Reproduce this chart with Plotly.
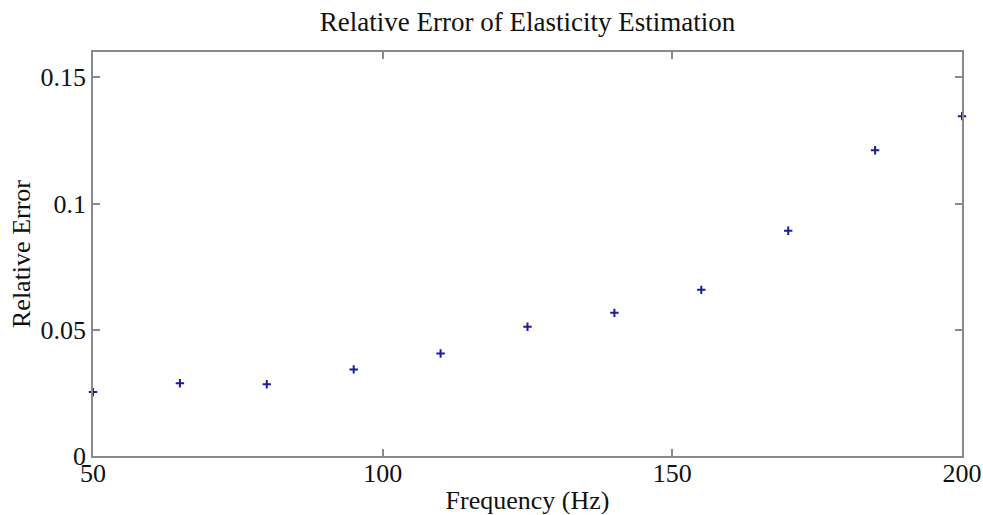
import plotly.graph_objects as go

freq = [50, 65, 80, 95, 110, 125, 140, 155, 170, 185, 200]
rel_err = [0.0253, 0.0288, 0.0284, 0.0343, 0.0406, 0.0512, 0.0567, 0.0658, 0.0892, 0.1211, 0.1346]
xticks = [50, 100, 150, 200]
yticks = [0, 0.05, 0.1, 0.15]
yticklabels = ["0", "0.05", "0.1", "0.15"]

font = "Liberation Serif, Times New Roman, serif"

fig = go.Figure(go.Scatter(
    x=freq, y=rel_err, mode="markers",
    marker=dict(symbol="cross-thin", size=6, line=dict(width=2, color="#1c1c9a"), color="#1c1c9a"),
    cliponaxis=False, showlegend=False,
))

axis_common = dict(
    showline=True, linecolor="#8a8a8a", linewidth=1.5, mirror="ticks",
    ticks="inside", ticklen=7, tickwidth=1.5, tickcolor="#8a8a8a",
    showgrid=False, zeroline=False, automargin=False,
    tickfont=dict(family=font, size=26, color="#111"),
)

fig.update_layout(
    width=983, height=515,
    margin=dict(l=93, r=21, t=52, b=59),
    paper_bgcolor="white", plot_bgcolor="white",
    title=dict(text="Relative Error of Elasticity Estimation", x=0.5366, xanchor="center",
               y=0.958, yanchor="middle", font=dict(family=font, size=27, color="#111")),
    xaxis=dict(range=[50, 200], tickvals=xticks, ticktext=[str(v) for v in xticks],
               ticklabelstandoff=-7,
               title=dict(text="Frequency (Hz)", font=dict(family=font, size=26, color="#111"), standoff=7),
               **axis_common),
    yaxis=dict(range=[0, 0.16], tickvals=yticks, ticktext=yticklabels,
               title=dict(text="Relative Error", font=dict(family=font, size=26, color="#111"), standoff=2),
               **axis_common),
)

fig.write_html("out.html", config={"displayModeBar": False},
               post_script="document.body.style.margin='0';document.body.style.overflow='hidden';")
